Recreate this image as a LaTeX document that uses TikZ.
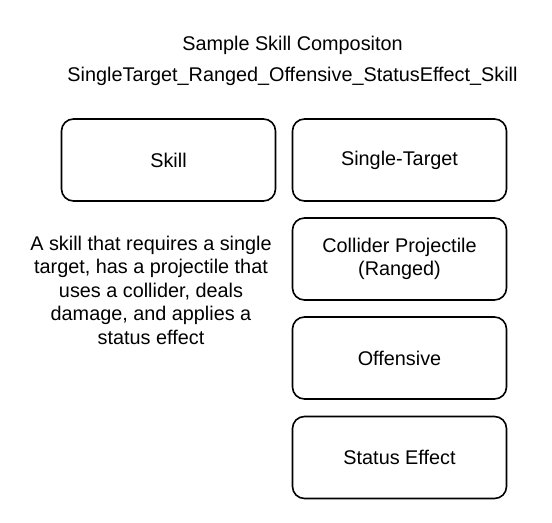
\documentclass[tikz,border=0pt]{standalone}
\usepackage{fontspec}
\setmainfont{Liberation Sans}

\begin{document}
\begin{tikzpicture}[x=1bp, y=-1bp,
  every node/.style={font=\fontsize{19.9}{23.6}\selectfont},
  part/.style={draw, line width=1.6bp, rounded corners=12bp,
    minimum width=214bp, minimum height=82bp, inner sep=0pt, align=center}]

\useasboundingbox (0,0) rectangle (552,523) ;

\node (title) at (292.5, 45) {Sample Skill Compositon} ;
\node (name) at (292.5, 76) {SingleTarget\_Ranged\_Offensive\_StatusEffect\_Skill} ;

\node [part] (skill) at (168.5, 160) {Skill} ;
\node [part] (single) at (399.5, 160) {Single-Target} ;
\node [part] (collider) at (399.5, 259) {Collider Projectile\\(Ranged)} ;
\node [part] (offensive) at (399.5, 358) {Offensive} ;
\node [part] (status) at (399.5, 457.5) {Status Effect} ;

\node [align=center] (about) at (151, 290) {A skill that requires a single\\target, has a projectile that\\uses a collider, deals\\damage, and applies a\\status effect} ;

\end{tikzpicture}
\end{document}
